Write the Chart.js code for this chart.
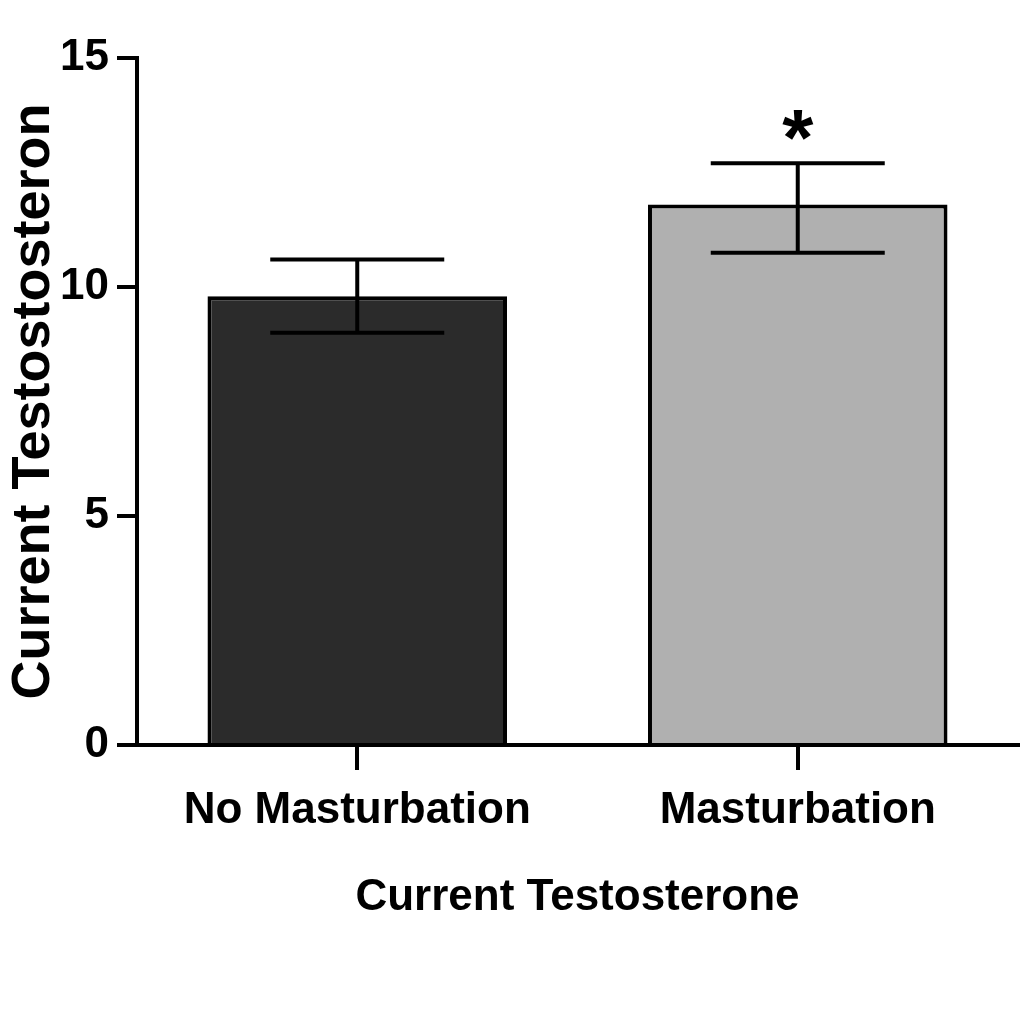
<!DOCTYPE html>
<html><head><meta charset="utf-8">
<script src="https://cdn.jsdelivr.net/npm/chart.js@4"></script>
<style>html,body{margin:0;background:#fff}#w{width:1024px;height:1024px}</style>
</head><body><div id="w"><canvas id="c"></canvas></div>
<script>
const categories = ["No Masturbation", "Masturbation"];
const means = [9.8, 11.8];
const errLow = [9.0, 10.75];
const errHigh = [10.6, 12.7];
const sigMarks = ["", "*"];
const yTicks = [0, 5, 10, 15];

const errPlugin = {
  id: 'err',
  afterDatasetsDraw(chart) {
    const ctx = chart.ctx, x = chart.scales.x, y = chart.scales.y;
    ctx.save();
    ctx.strokeStyle = '#000'; ctx.lineWidth = 4; ctx.lineCap = 'butt';
    categories.forEach((c, i) => {
      const cx = x.getPixelForValue(i);
      const yl = y.getPixelForValue(errLow[i]), yh = y.getPixelForValue(errHigh[i]);
      const hw = 87;
      ctx.beginPath();
      ctx.moveTo(cx, yl); ctx.lineTo(cx, yh);
      ctx.moveTo(cx - hw, yl); ctx.lineTo(cx + hw, yl);
      ctx.moveTo(cx - hw, yh); ctx.lineTo(cx + hw, yh);
      ctx.stroke();
      if (sigMarks[i]) {
        ctx.fillStyle = '#000';
        ctx.font = 'bold 80px "Liberation Sans", Arial, sans-serif';
        ctx.textAlign = 'center'; ctx.textBaseline = 'alphabetic';
        ctx.fillText(sigMarks[i], cx, yh + 2);
      }
    });
    ctx.restore();
  }
};

const font = {family: '"Liberation Sans", Arial, sans-serif', weight: 'bold', size: 44};
const tfont = {family: '"Liberation Sans", Arial, sans-serif', weight: 'bold', size: 46};
new Chart(document.getElementById('c'), {
  type: 'bar',
  data: {labels: categories, datasets: [{
    data: means,
    backgroundColor: ['#2b2b2b', '#b0b0b0'],
    borderColor: '#000', borderWidth: 4, borderSkipped: 'bottom',
    categoryPercentage: 0.68, barPercentage: 1
  }]},
  options: {
    responsive: true, maintainAspectRatio: false, animation: false,
    layout: {padding: {top: 58, right: 6, left: 0, bottom: 100}},
    plugins: {legend: {display: false}, tooltip: {enabled: false}},
    scales: {
      x: {
        grid: {offset: false, drawOnChartArea: false, drawTicks: true, tickLength: 25, color: '#000', lineWidth: 4},
        border: {color: '#000', width: 4},
        ticks: {color: '#000', font, padding: 14},
        title: {display: true, text: 'Current Testosterone', color: '#000', font, padding: {top: 40, bottom: 0}},
        afterFit(s) { s.height = 179; }
      },
      y: {
        min: 0, max: 15,
        afterBuildTicks(s) { s.ticks = yTicks.map(v => ({value: v})); },
        grid: {drawOnChartArea: false, drawTicks: true, tickLength: 20, color: '#000', lineWidth: 4},
        border: {color: '#000', width: 4},
        ticks: {color: '#000', font, padding: 8},
        title: {display: true, text: 'Current Testostosteron', color: '#000', font: {...tfont, size: 54}, padding: {top: 2, bottom: 0}},
        afterFit(s) { s.width = 137; }
      }
    }
  },
  plugins: [errPlugin]
});
</script></body></html>
